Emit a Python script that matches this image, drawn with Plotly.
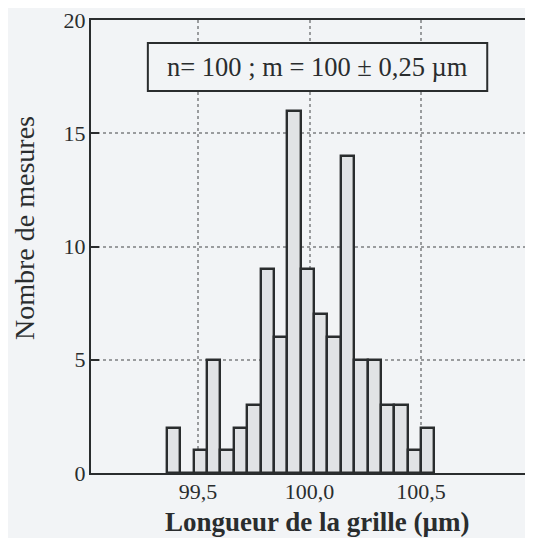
import plotly.graph_objects as go

# Data
bin_centers = [99.39, 99.45, 99.51, 99.57, 99.63, 99.69, 99.75, 99.81, 99.87, 99.93,
               99.99, 100.05, 100.11, 100.17, 100.23, 100.29, 100.35, 100.41, 100.47, 100.53]
counts = [2, 0, 1, 5, 1, 2, 3, 9, 6, 16, 9, 7, 6, 14, 5, 5, 3, 3, 1, 2]
bin_width = 0.06
x_tick_vals = [99.5, 100.0, 100.5]
x_tick_labels = ["99,5", "100,0", "100,5"]
y_tick_vals = [0, 5, 10, 15, 20]
y_tick_labels = ["0", "5", "10", "15", "20"]

BG = "#f2f4f6"
INK = "#2a2d2e"
FONT = "Liberation Serif"

fig = go.Figure()
fig.add_trace(go.Bar(
    x=bin_centers, y=counts, width=bin_width,
    marker=dict(color="#e1e3e5", line=dict(color=INK, width=2.4)),
    showlegend=False,
))

fig.update_layout(
    width=517, height=530,
    margin=dict(l=83, r=0, t=12, b=65),
    paper_bgcolor=BG, plot_bgcolor=BG,
    font=dict(family=FONT, color=INK, size=22),
    bargap=0,
)
fig.update_xaxes(
    range=[99.02, 100.966],
    tickvals=x_tick_vals, ticktext=x_tick_labels,
    showgrid=True, gridcolor="#9a9c9e", gridwidth=1.5, griddash="dot",
    showline=True, linecolor=INK, linewidth=2.2, mirror=True,
    ticks="", zeroline=False, ticklabelstandoff=-3,
    tickfont=dict(family=FONT, size=22, color=INK),
)
fig.update_yaxes(
    range=[0, 20],
    tickvals=y_tick_vals, ticktext=y_tick_labels,
    showgrid=True, gridcolor="#9a9c9e", gridwidth=1.5, griddash="dot",
    showline=True, linecolor=INK, linewidth=2.2, mirror=False,
    ticks="inside", ticklen=8, tickwidth=2, tickcolor=INK,
    zeroline=False, ticklabeloverflow="allow", ticklabelstandoff=-1,
    tickfont=dict(family=FONT, size=22, color=INK),
)

# y-axis title
fig.add_annotation(
    text="Nombre de mesures", textangle=-90,
    xref="paper", yref="paper", x=-0.152, y=0.541,
    xanchor="center", yanchor="middle", showarrow=False,
    font=dict(family=FONT, size=28, color=INK),
)
# x-axis title
fig.add_annotation(
    text="<b>Longueur de la grille (µm)</b>",
    xref="paper", yref="paper", x=0.521, y=-0.108,
    xanchor="center", yanchor="middle", showarrow=False,
    font=dict(family=FONT, size=27, color=INK),
)
# statistics box
fig.add_shape(
    type="rect", xref="paper", yref="paper",
    x0=0.131, x1=0.913, y0=0.843, y1=0.949,
    line=dict(color=INK, width=2), fillcolor=BG, layer="above",
)
fig.add_annotation(
    text="n= 100 ; m = 100 ± 0,25 µm",
    xref="paper", yref="paper", x=0.522, y=0.896,
    xanchor="center", yanchor="middle", showarrow=False,
    font=dict(family=FONT, size=26.5, color=INK),
)

fig.write_html("out.html")
